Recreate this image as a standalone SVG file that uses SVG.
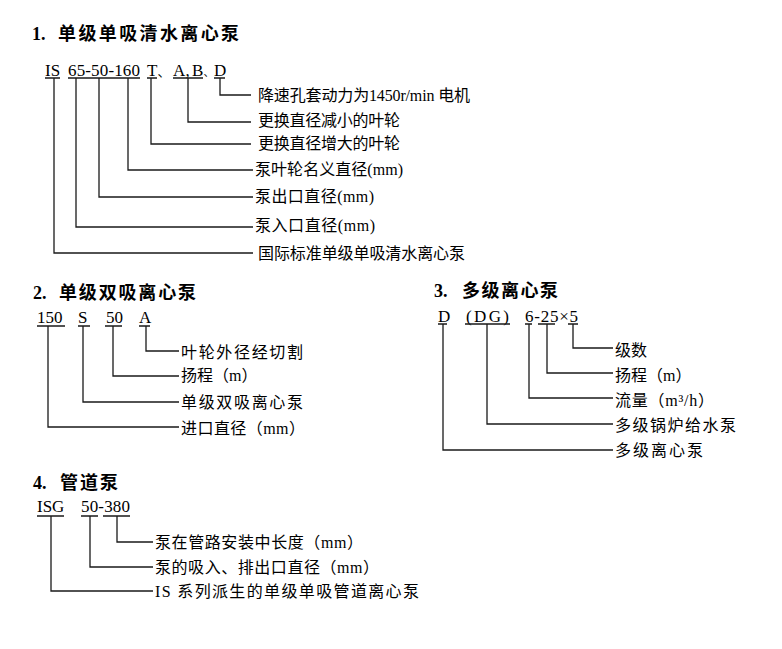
<svg xmlns="http://www.w3.org/2000/svg" width="782" height="649" viewBox="0 0 782 649">
  <style>
    .bg { fill: #ffffff; }
    .num { font-family: "Liberation Serif", "Noto Sans CJK SC", serif; font-weight: bold; font-size: 18px; fill: #000; }
    .ttl { font-family: "Noto Sans CJK SC", "Liberation Sans", sans-serif; font-weight: bold; font-size: 18px; fill: #000; }
    .code { font-family: "Liberation Serif", "Noto Sans CJK SC", serif; font-size: 17px; fill: #000; }
    .lbl { font-family: "Liberation Serif", "Noto Sans CJK SC", serif; font-size: 16px; fill: #000; }
    .ln { fill: none; stroke: #1a1a1a; stroke-width: 1.3; }
  </style>
  <rect class="bg" width="782" height="649"/>

  <!-- 1. single-stage single-suction clean-water pump -->
  <g id="sec1-title">
    <text class="num" x="32" y="39.5">1.</text>
    <text class="ttl" x="58" y="39.5" textLength="181" lengthAdjust="spacing">单级单吸清水离心泵</text>
  </g>
  <g id="sec1-code">
    <text class="code" y="75.5"><tspan x="45">IS</tspan><tspan x="68" textLength="72" lengthAdjust="spacing">65-50-160</tspan><tspan x="147">T</tspan><tspan x="157.5" font-size="13">、</tspan><tspan x="173">A</tspan><tspan x="185.6">,</tspan><tspan x="192">B</tspan><tspan x="203.5" font-size="10.5">、</tspan><tspan x="214">D</tspan></text>
  </g>
  <g id="sec1-labels">
    <text class="lbl" x="258" y="101" textLength="212" lengthAdjust="spacing">降速孔套动力为1450r/min 电机</text>
    <text class="lbl" x="258" y="126" textLength="142" lengthAdjust="spacing">更换直径减小的叶轮</text>
    <text class="lbl" x="258" y="149" textLength="142" lengthAdjust="spacing">更换直径增大的叶轮</text>
    <text class="lbl" x="255" y="175" textLength="148" lengthAdjust="spacing">泵叶轮名义直径(mm)</text>
    <text class="lbl" x="255" y="202" textLength="119" lengthAdjust="spacing">泵出口直径(mm)</text>
    <text class="lbl" x="255" y="230.5" textLength="120" lengthAdjust="spacing">泵入口直径(mm)</text>
    <text class="lbl" x="258" y="258.5" textLength="207" lengthAdjust="spacing">国际标准单级单吸清水离心泵</text>
  </g>

  <!-- 2. single-stage double-suction pump -->
  <g id="sec2-title">
    <text class="num" x="33" y="298.5">2.</text>
    <text class="ttl" x="59" y="298.5" textLength="137" lengthAdjust="spacing">单级双吸离心泵</text>
  </g>
  <g id="sec2-code">
    <text class="code" y="323"><tspan x="37">150</tspan><tspan x="78">S</tspan><tspan x="106">50</tspan><tspan x="139">A</tspan></text>
  </g>
  <g id="sec2-labels">
    <text class="lbl" x="181" y="358" textLength="122" lengthAdjust="spacing">叶轮外径经切割</text>
    <text class="lbl" x="181" y="381">扬程（m）</text>
    <text class="lbl" x="181" y="408" textLength="122" lengthAdjust="spacing">单级双吸离心泵</text>
    <text class="lbl" x="181" y="434" textLength="124" lengthAdjust="spacing">进口直径（mm）</text>
  </g>

  <!-- 3. multistage centrifugal pump -->
  <g id="sec3-title">
    <text class="num" x="434" y="297">3.</text>
    <text class="ttl" x="462" y="297" textLength="96" lengthAdjust="spacing">多级离心泵</text>
  </g>
  <g id="sec3-code">
    <text class="code" y="322"><tspan x="438">D</tspan><tspan x="466" textLength="43" lengthAdjust="spacing">(DG)</tspan><tspan x="525" textLength="53" lengthAdjust="spacing">6-25×5</tspan></text>
  </g>
  <g id="sec3-labels">
    <text class="lbl" x="615" y="356">级数</text>
    <text class="lbl" x="615" y="381">扬程（m）</text>
    <text class="lbl" x="615" y="406" textLength="99" lengthAdjust="spacing">流量（m³/h）</text>
    <text class="lbl" x="615" y="431" textLength="121" lengthAdjust="spacing">多级锅炉给水泵</text>
    <text class="lbl" x="615" y="456" textLength="88" lengthAdjust="spacing">多级离心泵</text>
  </g>

  <!-- 4. inline pipeline pump -->
  <g id="sec4-title">
    <text class="num" x="33" y="489">4.</text>
    <text class="ttl" x="60" y="489" textLength="58" lengthAdjust="spacing">管道泵</text>
  </g>
  <g id="sec4-code">
    <text class="code" y="512"><tspan x="37">ISG</tspan><tspan x="81" textLength="49" lengthAdjust="spacing">50-380</tspan></text>
  </g>
  <g id="sec4-labels">
    <text class="lbl" x="155" y="548" textLength="208" lengthAdjust="spacing">泵在管路安装中长度（mm）</text>
    <text class="lbl" x="155" y="573" textLength="224" lengthAdjust="spacing">泵的吸入、排出口直径（mm）</text>
    <text class="lbl" x="155" y="597" textLength="264" lengthAdjust="spacing">IS 系列派生的单级单吸管道离心泵</text>
  </g>

  <!-- underlines and elbow leaders -->
  <g id="connectors">
    <!-- section 1 -->
    <path class="ln" d="M45 78H60M68 78H140M147 78H157M173 78H203M214 78H225"/>
    <path class="ln" d="M220 78V95H251"/>
    <path class="ln" d="M188 78V122H251"/>
    <path class="ln" d="M151 78V144H251"/>
    <path class="ln" d="M128 78V170H253"/>
    <path class="ln" d="M99 78V197H253"/>
    <path class="ln" d="M76 78V227H253"/>
    <path class="ln" d="M54 78V253H253"/>
    <!-- section 2 -->
    <path class="ln" d="M37 326H65M78 326H90M105 326H122M139 326H150"/>
    <path class="ln" d="M146 326V351H179"/>
    <path class="ln" d="M113 326V376H179"/>
    <path class="ln" d="M83 326V402H179"/>
    <path class="ln" d="M48 326V427H179"/>
    <!-- section 3 -->
    <path class="ln" d="M438 324H447M465 324H510M525 324H532M538 324H555M568 324H578"/>
    <path class="ln" d="M573 324V348H613"/>
    <path class="ln" d="M547 324V373H613"/>
    <path class="ln" d="M529 324V398H613"/>
    <path class="ln" d="M487 324V424H613"/>
    <path class="ln" d="M443 324V450H613"/>
    <!-- section 4 -->
    <path class="ln" d="M37 516H64M81 516H98M103 516H130"/>
    <path class="ln" d="M117 516V542H153"/>
    <path class="ln" d="M90 516V567H153"/>
    <path class="ln" d="M51 516V591H153"/>
  </g>
</svg>
